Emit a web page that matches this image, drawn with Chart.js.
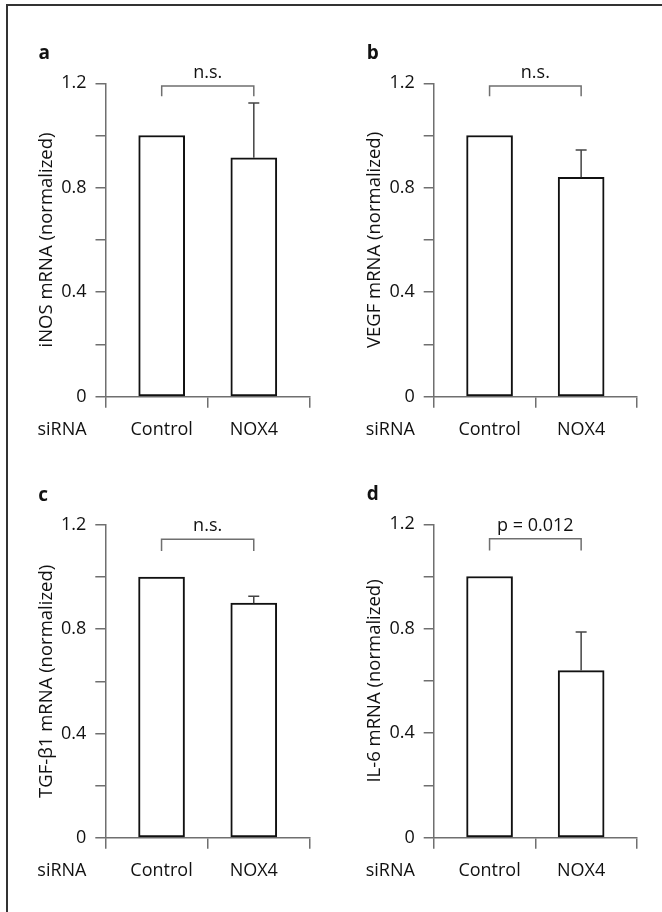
<!DOCTYPE html>
<html>
<head>
<meta charset="utf-8">
<script src="https://cdn.jsdelivr.net/npm/chart.js@4.4.0/dist/chart.umd.min.js"></script>
<style>
body { margin: 0; background: #fff; }
#page { position: relative; width: 662px; height: 912px; overflow: hidden; }
#frame { position: absolute; left: 6px; top: 4px; right: -10px; bottom: -10px;
         border-top: 2px solid #333; border-left: 2px solid #333; }
canvas { position: absolute; }
</style>
</head>
<body>
<div id="page">
  <div id="frame"></div>
  <canvas id="chart-a" width="331" height="456" style="left:0;top:0"></canvas>
  <canvas id="chart-b" width="331" height="456" style="left:331px;top:0"></canvas>
  <canvas id="chart-c" width="331" height="456" style="left:0;top:456px"></canvas>
  <canvas id="chart-d" width="331" height="456" style="left:331px;top:456px"></canvas>
</div>
<script>
// values
var categories = ["Control", "NOX4"];
var panelLetters = ["a", "b", "c", "d"];
var yTitles = ["iNOS mRNA (normalized)", "VEGF mRNA (normalized)", "TGF-\u03B21 mRNA (normalized)", "IL-6 mRNA (normalized)"];
var meanValues = [[1.0, 0.915], [1.0, 0.84], [1.0, 0.90], [1.0, 0.64]];
var errorValues = [[0, 0.21], [0, 0.105], [0, 0.027], [0, 0.148]];
var sigLabels = ["n.s.", "n.s.", "n.s.", "p = 0.012"];
var bracketTop = [1.19, 1.19, 1.145, 1.145];
var bracketLeg = [1.15, 1.15, 1.10, 1.10];
var labelledTicks = [0, 0.4, 0.8, 1.2];
// x axis: bars sit at 0 and 1, the axis runs a bit past them, tick marks at ends and middle
var xMin = -0.61, xMax = 1.61;
var xTickMarks = [-0.61, 0.5, 1.61];

// where each plot area sits inside its canvas
var boxes = [
  { id: "chart-a", padTop: 83.3, padRight: 21, yWidth: 105.5, xHeight: 59.3 },
  { id: "chart-b", padTop: 83.3, padRight: 25, yWidth: 102.7, xHeight: 59.3 },
  { id: "chart-c", padTop: 69, padRight: 21, yWidth: 105.3, xHeight: 74.3 },
  { id: "chart-d", padTop: 68.3, padRight: 25, yWidth: 102.7, xHeight: 74.3 }
];

var FONT = "'Open Sans', 'Noto Sans', sans-serif";
var AXIS = "#6f6f6f";
var TEXT = "#111";

// error bars, significance brackets, panel letters, "siRNA"
var annotate = {
  id: "annotate",
  afterDatasetsDraw: function(chart) {
    var i = chart.options.plugins.annotate.panel;
    var ctx = chart.ctx, xs = chart.scales.x, ys = chart.scales.y, area = chart.chartArea;
    ctx.save();

    ctx.strokeStyle = "#444";
    ctx.lineWidth = 1.5;
    errorValues[i].forEach(function(err, j) {
      if (!err) return;
      var cx = xs.getPixelForValue(j);
      var y0 = ys.getPixelForValue(meanValues[i][j]);
      var y1 = ys.getPixelForValue(meanValues[i][j] + err);
      ctx.beginPath();
      ctx.moveTo(cx, y0); ctx.lineTo(cx, y1);
      ctx.moveTo(cx - 5.5, y1); ctx.lineTo(cx + 5.5, y1);
      ctx.stroke();
    });

    var bx0 = xs.getPixelForValue(0), bx1 = xs.getPixelForValue(1);
    var by = ys.getPixelForValue(bracketTop[i]), bl = ys.getPixelForValue(bracketLeg[i]);
    ctx.strokeStyle = AXIS;
    ctx.beginPath();
    ctx.moveTo(bx0, bl); ctx.lineTo(bx0, by); ctx.lineTo(bx1, by); ctx.lineTo(bx1, bl);
    ctx.stroke();

    ctx.fillStyle = TEXT;
    ctx.font = "18px " + FONT;
    ctx.textAlign = "center";
    ctx.textBaseline = "alphabetic";
    ctx.fillText(sigLabels[i], (bx0 + bx1) / 2, by - 8);

    ctx.textAlign = "left";
    ctx.fillText("siRNA", area.left - 68, area.bottom + 38);

    ctx.font = "bold 19px " + FONT;
    ctx.fillText(panelLetters[i], area.left - 67, area.top - 24);
    ctx.restore();
  }
};

function makeChart(i) {
  var box = boxes[i];
  var ctx = document.getElementById(box.id).getContext("2d");
  return new Chart(ctx, {
    type: "bar",
    data: {
      datasets: [{
        data: meanValues[i].map(function(v, j) { return { x: j, y: v }; }),
        backgroundColor: "#fff",
        borderColor: "#111",
        borderWidth: 2,
        borderSkipped: false,
        barThickness: 46
      }]
    },
    options: {
      responsive: false,
      animation: false,
      devicePixelRatio: 1,
      layout: { padding: { top: box.padTop, right: box.padRight, left: 0, bottom: 0 } },
      plugins: { legend: { display: false }, tooltip: { enabled: false }, annotate: { panel: i } },
      scales: {
        x: {
          type: "linear",
          offset: false,
          min: xMin,
          max: xMax,
          afterBuildTicks: function(s) {
            s.ticks = xTickMarks.concat([0, 1])
              .sort(function(p, q) { return p - q; })
              .map(function(v) { return { value: v }; });
          },
          grid: {
            offset: false,
            drawOnChartArea: false,
            tickLength: 11,
            lineWidth: 1.5,
            color: function(c) {
              return c.tick && xTickMarks.indexOf(c.tick.value) >= 0 ? AXIS : "rgba(0,0,0,0)";
            }
          },
          border: { color: AXIS, width: 1.5 },
          ticks: {
            color: TEXT,
            font: { size: 18, family: FONT },
            padding: 11,
            maxRotation: 0,
            autoSkip: false,
            callback: function(v) {
              var k = categories[v];
              return k === undefined ? "" : k;
            }
          },
          afterFit: function(s) { s.height = box.xHeight; }
        },
        y: {
          min: 0,
          max: 1.2,
          grid: { drawOnChartArea: false, tickLength: 10, color: AXIS, lineWidth: 1.5 },
          border: { color: AXIS, width: 1.5 },
          ticks: {
            stepSize: 0.2,
            color: TEXT,
            font: { size: 18, family: FONT },
            padding: 9,
            callback: function(v) {
              var r = Math.round(v * 10) / 10;
              return labelledTicks.indexOf(r) >= 0 ? String(r) : "";
            }
          },
          title: {
            display: true,
            text: yTitles[i],
            color: TEXT,
            font: { size: 18.5, family: FONT },
            padding: { top: box.yWidth - 59 - 11.1, bottom: 0 }
          },
          afterFit: function(s) { s.width = box.yWidth; }
        }
      }
    },
    plugins: [annotate]
  });
}

window.addEventListener("load", function() {
  for (var i = 0; i < boxes.length; i++) makeChart(i);
});
</script>
</body>
</html>
